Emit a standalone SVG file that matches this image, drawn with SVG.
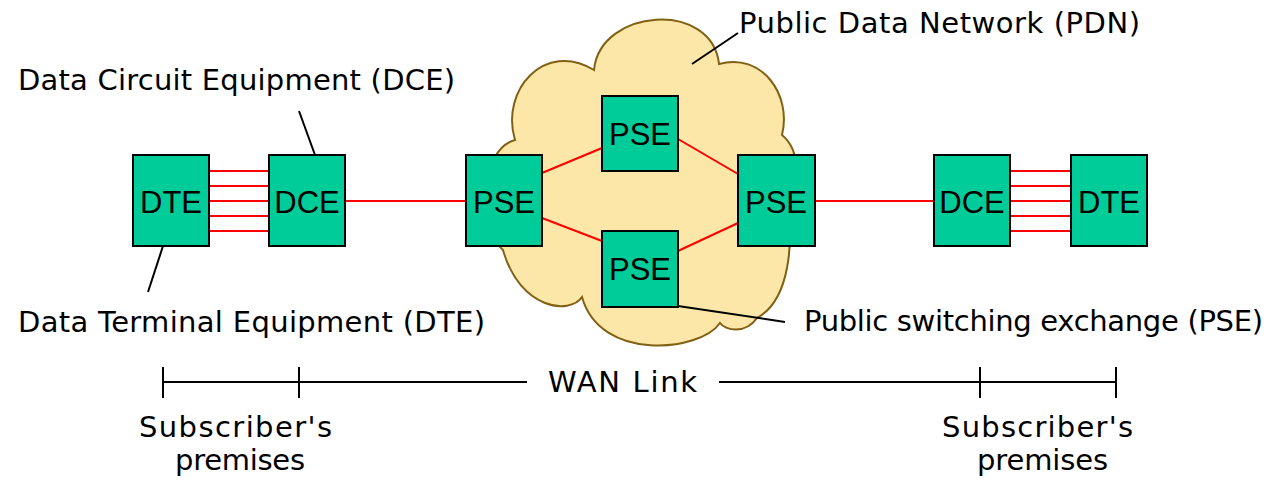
<svg xmlns="http://www.w3.org/2000/svg" width="1280" height="480" viewBox="0 0 1280 480">
<style>
.box{fill:#00CC99;stroke:#000;stroke-width:2}
.bt{font-family:"Liberation Sans",Arial,sans-serif;font-size:31px;fill:#000;text-anchor:middle}
.lbl{font-family:"DejaVu Sans",Verdana,sans-serif;font-size:29px;fill:#000}
.red{stroke:#FF0000;stroke-width:2;fill:none}
.blk{stroke:#000;stroke-width:2;fill:none}
</style>
<rect width="1280" height="480" fill="#fff"/>
<g id="cloud">
<path d="M515 140 C500 90 545 40 594 70 C600 8 712 0 719 64 C762 52 792 95 782 135 C800 150 800 180 785 200 C795 240 790 300 757 318 C745 335 725 330 720 323 C700 352 600 362 582 297 C570 315 520 310 503 250 C478 230 478 150 515 140 Z" fill="#FDE7A8" stroke="#806014" stroke-width="2"/>
</g>
<g id="connectors">
<line class="red" x1="209" y1="171" x2="269" y2="171"/>
<line class="red" x1="209" y1="186" x2="269" y2="186"/>
<line class="red" x1="209" y1="201" x2="269" y2="201"/>
<line class="red" x1="209" y1="216" x2="269" y2="216"/>
<line class="red" x1="209" y1="231" x2="269" y2="231"/>
<line class="red" x1="345" y1="201" x2="466" y2="201"/>
<line class="red" x1="542" y1="173" x2="602" y2="148"/>
<line class="red" x1="542" y1="218" x2="602" y2="241"/>
<line class="red" x1="678" y1="139" x2="738" y2="174"/>
<line class="red" x1="678" y1="251" x2="738" y2="223"/>
<line class="red" x1="815" y1="201" x2="934" y2="201"/>
<line class="red" x1="1010" y1="171" x2="1071" y2="171"/>
<line class="red" x1="1010" y1="186" x2="1071" y2="186"/>
<line class="red" x1="1010" y1="201" x2="1071" y2="201"/>
<line class="red" x1="1010" y1="216" x2="1071" y2="216"/>
<line class="red" x1="1010" y1="231" x2="1071" y2="231"/>
<line class="blk" x1="299" y1="111" x2="315" y2="155"/>
<line class="blk" x1="163" y1="246" x2="148" y2="292"/>
<line class="blk" x1="738" y1="33" x2="692" y2="64"/>
<line class="blk" x1="678" y1="306" x2="785" y2="322"/>
</g>
<g id="dte-left"><rect class="box" x="133" y="155" width="76" height="91"/><text class="bt" x="171" y="213">DTE</text></g>
<g id="dce-left"><rect class="box" x="269" y="155" width="76" height="91"/><text class="bt" x="307" y="213">DCE</text></g>
<g id="pse-left"><rect class="box" x="466" y="155" width="76" height="91"/><text class="bt" x="504" y="213">PSE</text></g>
<g id="pse-top"><rect class="box" x="602" y="96" width="76" height="75"/><text class="bt" x="640" y="145">PSE</text></g>
<g id="pse-bottom"><rect class="box" x="602" y="231" width="76" height="76"/><text class="bt" x="640" y="280">PSE</text></g>
<g id="pse-right"><rect class="box" x="738" y="155" width="77" height="91"/><text class="bt" x="776" y="213">PSE</text></g>
<g id="dce-right"><rect class="box" x="934" y="155" width="76" height="91"/><text class="bt" x="972" y="213">DCE</text></g>
<g id="dte-right"><rect class="box" x="1071" y="155" width="76" height="91"/><text class="bt" x="1109" y="213">DTE</text></g>
<g id="labels">
<text class="lbl" x="18" y="90" textLength="437" lengthAdjust="spacing">Data Circuit Equipment (DCE)</text>
<text class="lbl" x="18" y="332" textLength="467" lengthAdjust="spacing">Data Terminal Equipment (DTE)</text>
<text class="lbl" x="739" y="33" textLength="401" lengthAdjust="spacing">Public Data Network (PDN)</text>
<text class="lbl" x="804" y="331" textLength="459" lengthAdjust="spacing">Public switching exchange (PSE)</text>
<text class="lbl" x="548" y="392" textLength="149" lengthAdjust="spacing">WAN Link</text>
<text class="lbl" x="139" y="437" textLength="193" lengthAdjust="spacing">Subscriber's</text>
<text class="lbl" x="175" y="470" textLength="130" lengthAdjust="spacing">premises</text>
<text class="lbl" x="942" y="437" textLength="191" lengthAdjust="spacing">Subscriber's</text>
<text class="lbl" x="977" y="470" textLength="131" lengthAdjust="spacing">premises</text>
</g>
<g id="dimension">
<line class="blk" x1="163" y1="382" x2="527" y2="382"/>
<line class="blk" x1="719" y1="382" x2="1116" y2="382"/>
<line class="blk" x1="163" y1="367" x2="163" y2="398"/>
<line class="blk" x1="299" y1="367" x2="299" y2="398"/>
<line class="blk" x1="980" y1="367" x2="980" y2="398"/>
<line class="blk" x1="1116" y1="367" x2="1116" y2="398"/>
</g>
</svg>
